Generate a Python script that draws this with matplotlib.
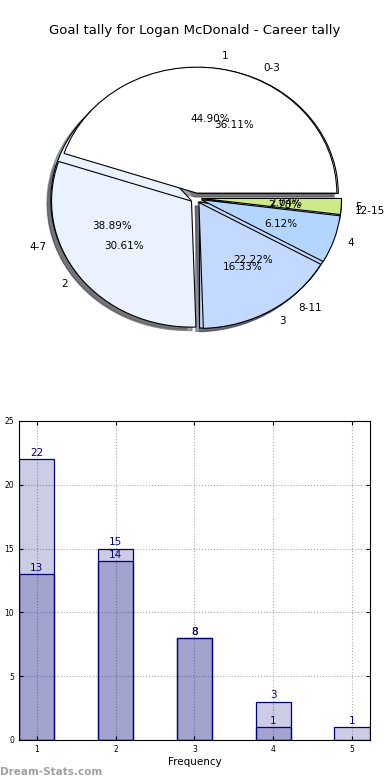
import numpy
import matplotlib
matplotlib.use('Agg')
import matplotlib.pyplot as plt


######################################################################
# Data
######################################################################

title = 'Goal tally for Logan McDonald - Career tally'

# goals per match (pie A / light bars)
goals_labels = ['1', '2', '3', '4', '5']
goals_counts = [22, 15, 8, 3, 1]

# minute ranges (pie B / dark bars)
range_labels = ['0-3', '4-7', '8-11', '12-15']
range_counts = [13, 14, 8, 1]

bar_ticks = [1, 2, 3, 4, 5]

pie_colors = ['#ffffff', '#eaf1ff', '#c4d9ff', '#b3d6ff', '#cdea8a']


######################################################################
# Figure
######################################################################

fig = plt.figure(figsize=(3.9, 7.8), dpi=100)

fig.text(0.5, 0.9615, title, ha='center', va='center', fontsize=9.5)

##################################################################
# 1. Pie
##################################################################

ax_pie = fig.add_axes([0.036, 0.536, 0.933, 0.42])

ax_pie.pie(
    range_counts,
    labels=range_labels,
    colors=pie_colors[:len(range_counts)],
    explode=[0.04] * len(range_counts),
    autopct='%.2f%%',
    shadow=True,
    startangle=0,
    wedgeprops={'edgecolor': 'black', 'linewidth': 0.8},
    textprops={'fontsize': 7.5}
)

ax_pie.pie(
    goals_counts,
    labels=goals_labels,
    colors=pie_colors,
    explode=[0.04] * len(goals_counts),
    autopct='%.2f%%',
    shadow=True,
    startangle=0,
    wedgeprops={'edgecolor': 'black', 'linewidth': 0.8},
    textprops={'fontsize': 7.5}
)

ax_pie.set_aspect('auto')
ax_pie.set_xlim(-1.3, 1.3)
ax_pie.set_ylim(-1.3, 1.3)
ax_pie.axis('off')

##################################################################
# 2. Bars
##################################################################

ax_bar = fig.add_axes([0.0487, 0.0513, 0.9, 0.409])

width = 0.45

ax_bar.bar(
    numpy.arange(1, len(goals_counts) + 1),
    goals_counts,
    width=width,
    color='navy',
    alpha=0.2,
    edgecolor='none'
)
ax_bar.bar(
    numpy.arange(1, len(goals_counts) + 1),
    goals_counts,
    width=width,
    fill=False,
    edgecolor='navy',
    linewidth=0.9
)

ax_bar.bar(
    numpy.arange(1, len(range_counts) + 1),
    range_counts,
    width=width,
    color='navy',
    alpha=0.2,
    edgecolor='none'
)
ax_bar.bar(
    numpy.arange(1, len(range_counts) + 1),
    range_counts,
    width=width,
    fill=False,
    edgecolor='navy',
    linewidth=0.9
)

for counts in [goals_counts, range_counts]:
    for ix, value in enumerate(counts):
        if value == 0:
            continue
        ax_bar.annotate(
            str(value),
            (ix + 1, value),
            xytext=(0, 1),
            textcoords='offset points',
            ha='center',
            va='bottom',
            color='navy',
            fontsize=7.5
        )

ax_bar.set_xlim(1 - width / 2, 5 + width / 2)
ax_bar.set_ylim(0, 25)
ax_bar.set_xticks(bar_ticks)
ax_bar.set_yticks([0, 5, 10, 15, 20, 25])
ax_bar.tick_params(labelsize=5.5, length=3, direction='in', top=True, right=True)
ax_bar.grid(True, linestyle=':', color='#aaaaaa', linewidth=0.8)
ax_bar.set_axisbelow(True)
ax_bar.set_xlabel('Frequency', fontsize=7.5, labelpad=2)
ax_bar.set_ylabel('Goals in Match', fontsize=7.5)
ax_bar.yaxis.set_label_coords(-0.048, 0.5)

fig.text(
    0.0, 0.004,
    'Dream-Stats.com',
    ha='left',
    va='bottom',
    fontsize=7.5,
    fontweight='bold',
    color='#a0a0a0'
)

plt.savefig('out.png', dpi=100)
plt.close()
